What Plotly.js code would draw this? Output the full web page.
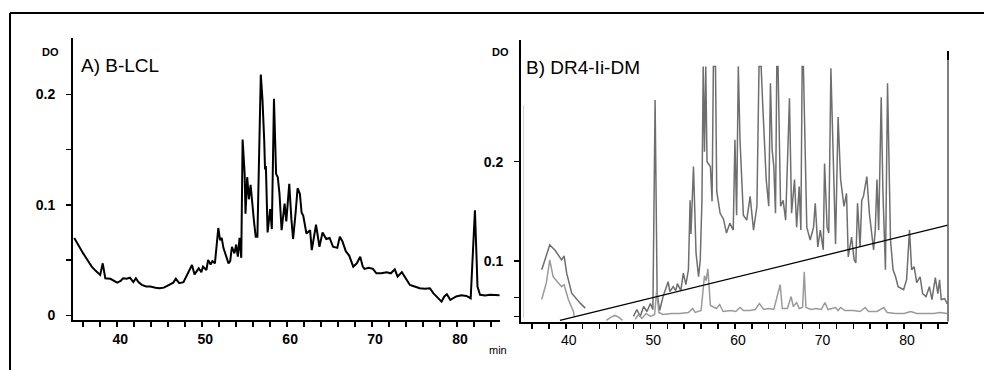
<!DOCTYPE html>
<html>
<head>
<meta charset="utf-8">
<script src="https://cdn.plot.ly/plotly-3.0.1.min.js"></script>
<style>html,body{margin:0;padding:0;background:#fff;}#chart{width:984px;height:370px;}</style>
</head>
<body>
<div id="chart"></div>
<script>
// ---------- Panel A: B-LCL (time in min, DO) ----------
const aTime = [34.95,35.5,36.0,36.5,37.0,37.5,38.0,38.3,38.6,39.2,39.6,40.0,40.4,40.7,41.1,41.5,41.9,42.2,42.5,42.9,43.4,43.9,44.5,45.0,45.5,46.0,46.4,46.6,46.9,47.3,47.8,48.2,48.5,48.8,49.1,49.4,49.6,49.9,50.1,50.5,50.7,51.0,51.2,51.5,51.7,51.9,52.1,52.3,52.5,52.7,53.1,53.3,53.5,53.8,54.0,54.2,54.4,54.6,54.76,55.0,55.1,55.3,55.5,55.7,55.9,56.1,56.3,56.5,56.9,57.1,57.3,57.4,57.5,57.7,58.0,58.2,58.45,58.7,58.9,59.1,59.35,59.7,59.9,60.25,60.5,60.7,61.0,61.23,61.5,61.7,61.9,62.27,62.7,62.9,63.4,63.8,64.17,64.6,65.0,65.4,65.9,66.2,66.5,66.9,67.3,67.78,68.2,68.6,68.9,69.1,69.6,70.1,70.5,71.1,71.7,72.2,72.67,73.0,73.5,73.9,74.45,75.0,75.6,76.2,76.8,77.2,77.7,78.17,78.5,78.8,79.2,79.9,80.5,81.1,81.6,81.85,82.1,82.3,82.4,82.7,83.3,83.86,84.5,85.0];
const aDO = [0.070,0.062,0.056,0.050,0.044,0.040,0.0365,0.047,0.0335,0.033,0.031,0.0295,0.031,0.0335,0.033,0.034,0.030,0.0335,0.030,0.0275,0.026,0.026,0.025,0.0245,0.025,0.027,0.028,0.0295,0.033,0.029,0.030,0.0365,0.040,0.0455,0.037,0.041,0.0425,0.039,0.044,0.041,0.050,0.046,0.049,0.047,0.062,0.079,0.068,0.070,0.061,0.056,0.047,0.049,0.062,0.056,0.064,0.053,0.070,0.052,0.159,0.128,0.092,0.125,0.105,0.118,0.097,0.085,0.071,0.071,0.218,0.195,0.159,0.132,0.135,0.075,0.096,0.078,0.196,0.128,0.125,0.110,0.077,0.101,0.085,0.119,0.087,0.069,0.093,0.115,0.110,0.093,0.090,0.074,0.077,0.059,0.082,0.062,0.075,0.069,0.070,0.062,0.061,0.071,0.067,0.058,0.054,0.044,0.047,0.053,0.044,0.042,0.043,0.042,0.038,0.038,0.039,0.038,0.0416,0.035,0.039,0.034,0.0274,0.026,0.0244,0.024,0.0244,0.020,0.016,0.0123,0.017,0.019,0.014,0.017,0.018,0.0175,0.0154,0.050,0.095,0.050,0.026,0.0185,0.018,0.0185,0.018,0.018];

// ---------- Panel B: DR4-Ii-DM ----------
const bUpperTime = [37.15,37.6,38.1,38.7,39.1,39.5,39.8,40.1,40.7,41.2,41.7,42.3,null,48.0,48.4,48.8,49.2,49.6,50.0,50.3,50.56,50.8,51.1,51.5,52.1,52.3,52.7,53.0,53.2,53.6,53.9,54.2,54.5,54.7,54.8,55.1,55.3,55.4,55.7,55.9,56.1,56.25,56.4,56.55,56.7,57.1,57.3,57.45,57.7,57.85,58.25,58.65,59.0,59.4,59.8,60.0,60.2,60.4,60.6,61.0,61.4,61.8,62.2,62.6,62.85,63.1,63.3,63.4,63.7,64.0,64.2,64.4,64.6,64.8,64.95,65.1,65.4,65.7,66.0,66.45,66.7,67.05,67.3,67.6,67.8,67.95,68.1,68.5,68.9,69.3,69.5,69.8,70.1,70.45,70.6,70.9,71.1,71.35,71.7,71.9,72.2,72.5,72.9,73.2,73.4,73.8,74.1,74.3,74.5,74.8,75.0,75.2,75.6,75.9,76.4,76.6,76.8,77.0,77.3,77.5,77.8,78.05,78.4,78.7,79.0,79.3,79.95,80.3,80.65,80.9,81.2,81.5,81.9,82.2,82.6,83.0,83.3,83.7,84.0,84.2,84.4,84.8,85.1];
const bUpperDO = [0.091,0.104,0.116,0.111,0.106,0.101,0.105,0.0876,0.0675,0.062,0.0574,0.0524,null,0.044,0.051,0.044,0.054,0.049,0.057,0.051,0.262,0.0675,0.050,0.064,0.079,0.069,0.074,0.070,0.077,0.070,0.0876,0.076,0.091,0.161,0.127,0.195,0.148,0.108,0.084,0.101,0.161,0.296,0.210,0.296,0.200,0.195,0.160,0.296,0.296,0.170,0.148,0.142,0.128,0.138,0.131,0.222,0.146,0.296,0.222,0.146,0.141,0.165,0.131,0.155,0.296,0.296,0.255,0.232,0.182,0.155,0.279,0.212,0.195,0.148,0.296,0.296,0.155,0.161,0.141,0.264,0.148,0.182,0.134,0.175,0.131,0.296,0.296,0.134,0.121,0.134,0.158,0.114,0.131,0.111,0.198,0.134,0.128,0.294,0.171,0.117,0.245,0.182,0.155,0.168,0.104,0.124,0.101,0.098,0.158,0.114,0.161,0.165,0.185,0.148,0.111,0.131,0.182,0.131,0.265,0.171,0.091,0.279,0.121,0.091,0.084,0.074,0.071,0.081,0.131,0.091,0.094,0.078,0.084,0.067,0.064,0.074,0.061,0.083,0.067,0.081,0.061,0.062,0.057];

const bLowerTime = [37.15,37.7,38.1,38.5,39.0,39.5,39.8,40.3,40.9,41.0,null,44.8,45.3,45.8,46.3,46.7,null,48.2,48.6,49.0,49.5,50.0,50.5,50.75,51.0,51.5,52.5,53.5,54.5,55.0,55.3,56.0,56.4,56.6,56.8,57.1,57.8,58.2,58.6,59.5,60.1,60.6,61.0,61.8,62.4,62.9,63.4,64.0,64.6,65.35,65.6,66.2,66.65,66.9,67.3,67.6,68.0,68.2,68.4,69.0,69.6,70.2,70.65,71.0,71.5,71.9,72.2,72.5,73.0,74.0,74.8,75.4,75.8,76.8,77.6,78.0,79.0,80.0,80.8,81.5,82.5,83.5,84.3,85.1];
const bLowerDO = [0.061,0.078,0.101,0.084,0.079,0.074,0.076,0.061,0.049,0.044,null,0.040,0.043,0.045,0.043,0.040,null,0.041,0.046,0.042,0.047,0.044,0.046,0.070,0.048,0.046,0.047,0.047,0.048,0.052,0.048,0.050,0.085,0.080,0.092,0.055,0.052,0.056,0.049,0.050,0.049,0.053,0.050,0.050,0.051,0.057,0.051,0.052,0.051,0.076,0.052,0.052,0.064,0.054,0.058,0.052,0.053,0.089,0.053,0.051,0.052,0.051,0.058,0.051,0.052,0.053,0.050,0.053,0.050,0.050,0.049,0.053,0.049,0.049,0.053,0.048,0.047,0.047,0.049,0.047,0.047,0.047,0.048,0.047];

// straight baseline drawn over panel B
const baseTime = [39.3, 85.2];
const baseDO = [0.040, 0.136];

// tick labels
const xTickVals = [36,38,40,42,44,46,48,50,52,54,56,58,60,62,64,66,68,70,72,74,76,78,80,82,84];
const xTickTextA = xTickVals.map(v => v % 10 === 0 ? '<b>' + v + '</b>' : '');
const xTickTextB = xTickVals.map(v => v % 10 === 0 ? String(v) : '');
const yTickValsA = [0, 0.05, 0.1, 0.15, 0.2];
const yTickTextA = ['<b>0</b>', '', '<b>0.1</b>', '', '<b>0.2</b>'];
const yTickValsB = [0.044, 0.063, 0.1, 0.2];
const yTickTextB = ['', '', '<b>0.1</b>', '<b>0.2</b>'];

const W = 984, H = 370;
const px = x => x / W;
const py = y => 1 - y / H;
const FONT = 'Liberation Sans, Arial, sans-serif';

const traces = [
  {x: aTime, y: aDO, xaxis: 'x', yaxis: 'y', mode: 'lines', line: {color: '#000', width: 2}, hoverinfo: 'none'},
  {x: bUpperTime, y: bUpperDO, xaxis: 'x2', yaxis: 'y2', mode: 'lines', line: {color: '#6e6e6e', width: 1.5}, connectgaps: false, hoverinfo: 'none'},
  {x: bLowerTime, y: bLowerDO, xaxis: 'x2', yaxis: 'y2', mode: 'lines', line: {color: '#9a9a9a', width: 1.5}, connectgaps: false, hoverinfo: 'none'},
  {x: baseTime, y: baseDO, xaxis: 'x2', yaxis: 'y2', mode: 'lines', line: {color: '#000', width: 1.3}, hoverinfo: 'none'}
];

const axisCommon = {
  showline: true, linecolor: '#000', linewidth: 2, showgrid: false, zeroline: false,
  ticks: 'outside', ticklen: 5, tickwidth: 1.5, tickcolor: '#000',
  tickfont: {family: FONT, size: 14, color: '#000'}, fixedrange: true
};

const layout = {
  width: W, height: H,
  margin: {l: 0, r: 0, t: 0, b: 0},
  paper_bgcolor: '#fff', plot_bgcolor: 'rgba(0,0,0,0)',
  showlegend: false,
  font: {family: FONT, color: '#000'},
  xaxis: Object.assign({}, axisCommon, {domain: [px(73), px(500)], range: [34.8, 85.05], anchor: 'y',
    tickmode: 'array', tickvals: xTickVals, ticktext: xTickTextA, ticklabelstandoff: 0, ticklabelshift: 3}),
  yaxis: Object.assign({}, axisCommon, {domain: [py(320), py(38)], range: [-0.0043, 0.251], anchor: 'x',
    tickmode: 'array', tickvals: yTickValsA, ticktext: yTickTextA, ticklabelstandoff: 8}),
  xaxis2: Object.assign({}, axisCommon, {domain: [px(521), px(948)], range: [34.7, 85.2], anchor: 'y2',
    tickmode: 'array', tickvals: xTickVals, ticktext: xTickTextB, ticklabelstandoff: 0, ticklabelshift: 3}),
  yaxis2: Object.assign({}, axisCommon, {domain: [py(321.5), py(40)], range: [0.0389, 0.3226], anchor: 'x2',
    tickmode: 'array', tickvals: yTickValsB, ticktext: yTickTextB, ticklabelstandoff: 8}),
  shapes: [
    // outer frame (top and left edges)
    {type: 'line', xref: 'paper', yref: 'paper', x0: px(10), x1: 1, y0: py(13), y1: py(13), line: {color: '#000', width: 2}},
    {type: 'line', xref: 'paper', yref: 'paper', x0: px(10), x1: px(10), y0: py(13), y1: 0, line: {color: '#000', width: 2}},
    // right edge line of panel B
    {type: 'line', xref: 'x2 domain', yref: 'paper', x0: 1, x1: 1, y0: py(60), y1: py(321.5), line: {color: '#555', width: 1.5}},
    {type: 'line', xref: 'x2 domain', yref: 'paper', x0: 1, x1: 1, y0: py(51), y1: py(60), line: {color: '#000', width: 2}},
    // faint scan edge in panel B
    {type: 'line', xref: 'x2 domain', yref: 'paper', x0: 0.006, x1: 0.006, y0: py(105), y1: py(318), line: {color: '#d0d0d0', width: 1}}
  ],
  annotations: [
    {text: '<b>DO</b>', xref: 'paper', yref: 'paper', x: px(50), y: py(52), xanchor: 'center', yanchor: 'middle', showarrow: false, font: {family: FONT, size: 11}},
    {text: 'A) B-LCL', xref: 'paper', yref: 'paper', x: px(79), y: py(65), xanchor: 'left', yanchor: 'middle', showarrow: false, font: {family: FONT, size: 19}},
    {text: '<b>DO</b>', xref: 'paper', yref: 'paper', x: px(500), y: py(52), xanchor: 'center', yanchor: 'middle', showarrow: false, font: {family: FONT, size: 11}},
    {text: 'B) DR4-Ii-DM', xref: 'paper', yref: 'paper', x: px(524), y: py(67), xanchor: 'left', yanchor: 'middle', showarrow: false, font: {family: FONT, size: 19}},
    {text: 'min', xref: 'paper', yref: 'paper', x: px(498), y: py(350), xanchor: 'center', yanchor: 'middle', showarrow: false, font: {family: FONT, size: 11}}
  ]
};

Plotly.newPlot('chart', traces, layout, {staticPlot: true, displayModeBar: false});
</script>
</body>
</html>
